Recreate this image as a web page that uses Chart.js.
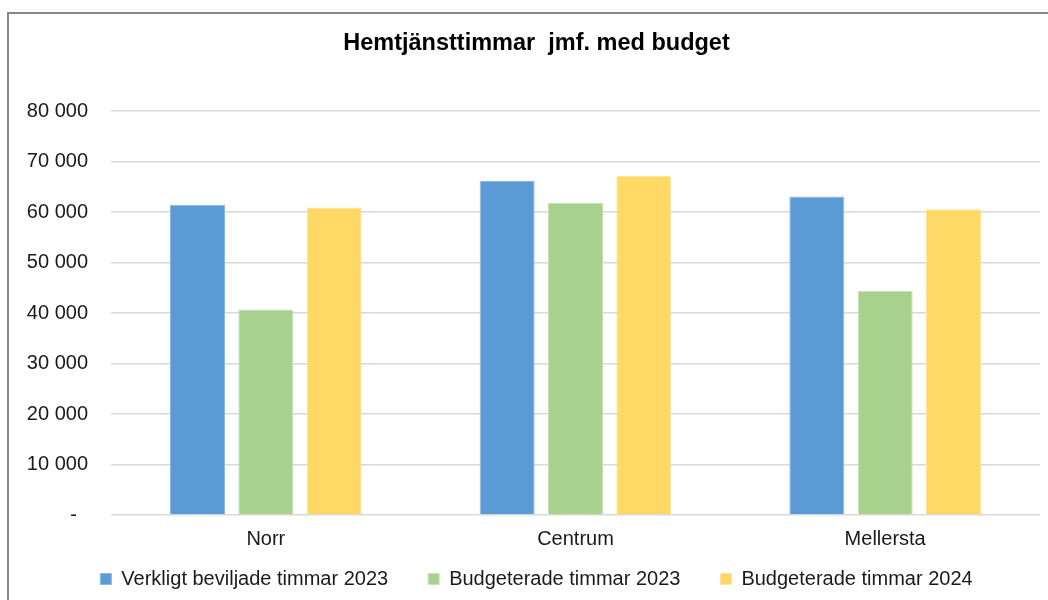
<!DOCTYPE html>
<html>
<head>
<meta charset="utf-8">
<script src="https://cdn.jsdelivr.net/npm/chart.js@4"></script>
<style>
    html, body { margin: 0; padding: 0; background: #fff; overflow: hidden; }
    #wrap { position: relative; width: 1070px; height: 620px; }
    #frame { position: absolute; left: 7px; top: 12px; width: 1056px; height: 600px; border: 2px solid #878787; box-sizing: border-box; }
    #myChart { position: absolute; left: 0; top: 0; }
</style>
</head>
<body>
<div id="wrap">
    <div id="frame"></div>
    <canvas id="myChart" width="1070" height="620"></canvas>
</div>
<script>
var omraden = ['Norr', 'Centrum', 'Mellersta'];
var verkligt2023 = [61450, 66150, 63050];
var budget2023 = [40700, 61850, 44400];
var budget2024 = [60900, 67200, 60550];
var yTicks = [0, 10000, 20000, 30000, 40000, 50000, 60000, 70000, 80000];

var textFarg = '#1a1a1a';
var fontFamily = 'Arial, "Liberation Sans", sans-serif';

// tusental med mellanslag, noll visas som streck
function formatTal(v){
    if(v === 0){
        return '-  ';
    }
    return String(v).replace(/\B(?=(\d{3})+(?!\d))/g, ' ');
}

function chart(){
    var ctx = document.getElementById('myChart');
    var myChart = new Chart(ctx, {
        type: 'bar',
        data: {
            labels: omraden,
            datasets: [{
                label: 'Verkligt beviljade timmar 2023',
                data: verkligt2023,
                backgroundColor: '#5b9bd5',
                borderColor: '#8ab8e3',
                borderWidth: 1
            }, {
                label: 'Budgeterade timmar 2023',
                data: budget2023,
                backgroundColor: '#a9d18e',
                borderColor: '#c6e2b3',
                borderWidth: 1
            }, {
                label: 'Budgeterade timmar 2024',
                data: budget2024,
                backgroundColor: '#ffd966',
                borderColor: '#ffe599',
                borderWidth: 1
            }]
        },
        options: {
            responsive: false,
            animation: false,
            categoryPercentage: 0.662,
            barPercentage: 0.805,
            layout: {
                padding: { left: 27, right: 24, top: 20, bottom: 21 }
            },
            scales: {
                x: {
                    grid: { display: false },
                    border: { display: false },
                    ticks: {
                        color: textFarg,
                        // mirror + negativ padding: etiketterna hamnar under nollinjen utan att klippas
                        mirror: true,
                        padding: -36,
                        font: { family: fontFamily, size: 20 }
                    },
                    afterFit: function(scale){
                        scale.height = 14;
                    }
                },
                y: {
                    min: 0,
                    max: 80000,
                    afterBuildTicks: function(scale){
                        scale.ticks = yTicks.map(function(v){ return { value: v }; });
                    },
                    afterFit: function(scale){
                        scale.width = 84;
                    },
                    grid: {
                        color: '#d9d9d9',
                        lineWidth: 1.5,
                        drawTicks: false
                    },
                    border: { display: false },
                    ticks: {
                        color: textFarg,
                        padding: 23,
                        font: { family: fontFamily, size: 20 },
                        callback: function(value){
                            return formatTal(value);
                        }
                    }
                },
                // tom axel till höger, bara för att centrera rubrik och förklaring
                hoger: {
                    type: 'linear',
                    position: 'right',
                    grid: { display: false },
                    border: { display: false },
                    ticks: { display: false },
                    afterFit: function(scale){
                        scale.width = 6;
                    }
                }
            },
            plugins: {
                title: {
                    display: true,
                    text: 'Hemtjänsttimmar  jmf. med budget',
                    color: '#000',
                    font: { family: fontFamily, size: 23.5, weight: 'bold' },
                    padding: { top: 9, bottom: 53.8 }
                },
                legend: {
                    position: 'bottom',
                    labels: {
                        color: textFarg,
                        boxWidth: 11,
                        boxHeight: 11,
                        padding: 40,
                        font: { family: fontFamily, size: 20 }
                    }
                },
                tooltip: { enabled: false }
            }
        }
    });
}

chart();
</script>
</body>
</html>
